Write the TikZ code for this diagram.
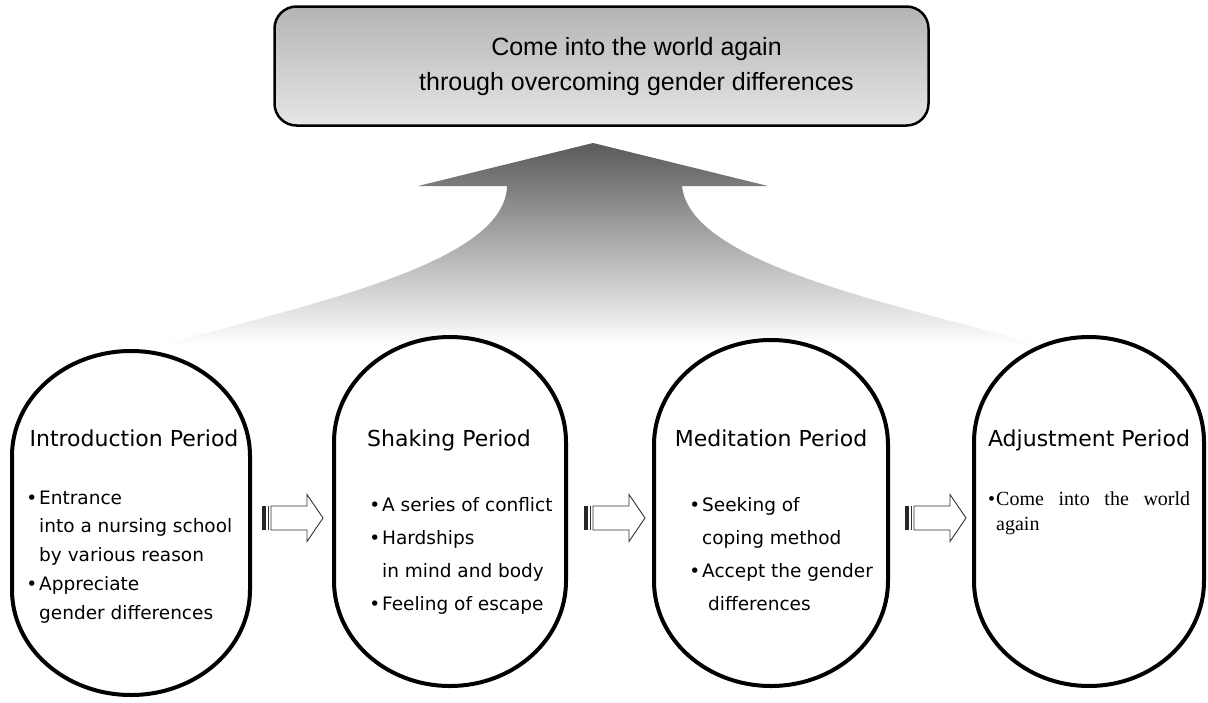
\documentclass[tikz,border=0pt]{standalone}
\usepackage{fontspec}
\setmainfont{DejaVu Sans}
\newfontfamily\titlefont{Liberation Sans}
\newfontfamily\bodyserif{Liberation Serif}
\usetikzlibrary{positioning}
\definecolor{boxTop}{HTML}{B4B4B4}
\definecolor{boxBottom}{HTML}{E6E6E6}
\definecolor{upDark}{HTML}{5A5A5A}
\definecolor{upMid}{HTML}{8C8C8C}

% centre x, centre y, half width, half height (pixel units, y downwards)
\newcommand{\periodoval}[4]{%
  \draw[oval] (#1-#3,#2-#4+105) arc[start angle=180,end angle=0,x radius=#3pt,y radius=105pt]
    -- (#1+#3,#2+#4-105) arc[start angle=0,end angle=-180,x radius=#3pt,y radius=105pt] -- cycle;}
% tail x, name
\newcommand{\stripearrow}[2]{%
  \coordinate (#2) at (#1,518);
  \fill[black!85] (#1,506) rectangle ++(3.5,24);
  \draw[arrowline] (#1+6.5,506) -- ++(0,24);
  \draw[arrowline] (#1+9,506) -- (#1+45,506) -- (#1+45,494.5) -- (#1+61,518)
    -- (#1+45,541.5) -- (#1+45,530) -- (#1+9,530) -- cycle;}
\newcommand{\bul}{\llap{•\hspace{2pt}}}

\begin{document}
\begin{tikzpicture}[x=1pt, y=-1pt,
    oval/.style={draw, line width=4pt, fill=white},
    arrowline/.style={draw=black!80, line width=0.9pt, fill=white},
    titlebox/.style={draw, line width=2.5pt, rounded corners=22pt,
      top color=boxTop, bottom color=boxBottom, inner sep=0pt},
    titletext/.style={align=center, inner sep=0pt,
      font=\titlefont\fontsize{25}{35}\selectfont},
    head/.style={anchor=base, inner sep=0pt, font=\fontsize{22}{26}\selectfont},
    body/.style={anchor=north west, inner sep=0pt, align=left,
      font=\fontsize{18.5}{33}\selectfont}]
  \useasboundingbox (0,0) rectangle (1208,702);

  % rising arrow
  \shade[top color=upDark, middle color=upMid, bottom color=white]
    (593,143) -- (768,186) -- (682,186)
    .. controls (690,265) and (900,305) .. (1040,345)
    -- (160,345)
    .. controls (330,300) and (505,260) .. (507,186)
    -- (418,186) -- cycle;

  % goal
  \node[titlebox, minimum width=654pt, minimum height=119pt] (goal) at (601.5,66) {};
  \node[titletext] (goal-text) at ([xshift=35pt, yshift=-1pt]goal.center)
    {Come into the world again\\through overcoming gender differences};

  % periods
  \periodoval{131}{523}{119}{172}
  \periodoval{450}{511.5}{116}{174.5}
  \periodoval{771}{513}{117}{173}
  \periodoval{1089}{511.5}{115}{174.5}

  \node[head] (intro) at (134,446) {Introduction Period};
  \node[head] (shaking) at (449,446) {Shaking Period};
  \node[head] (meditation) at (771,446) {Meditation Period};
  \node[head] (adjustment) at (1089,446) {Adjustment Period};

  \node[body, font=\fontsize{18.5}{28.75}\selectfont] (intro-body) at (39,490.5)
    {\bul Entrance\\into a nursing school\\by various reason\\\bul Appreciate\\gender differences};
  \node[body] (shaking-body) at (382,497.25)
    {\bul A series of conflict\\\bul Hardships\\in mind and body\\\bul Feeling of escape};
  \node[body] (meditation-body) at (702,497.25)
    {\bul Seeking of\\coping method\\\bul Accept the gender\\\hspace*{6pt}differences};
  \node[body, font=\bodyserif\fontsize{20}{25}\selectfont] (adjustment-body) at (996,491)
    {\llap{•\hspace{1pt}}\makebox[194pt][s]{Come into the world}\\again};

  % steps
  \stripearrow{262}{step-a}
  \stripearrow{584}{step-b}
  \stripearrow{905}{step-c}
\end{tikzpicture}
\end{document}
